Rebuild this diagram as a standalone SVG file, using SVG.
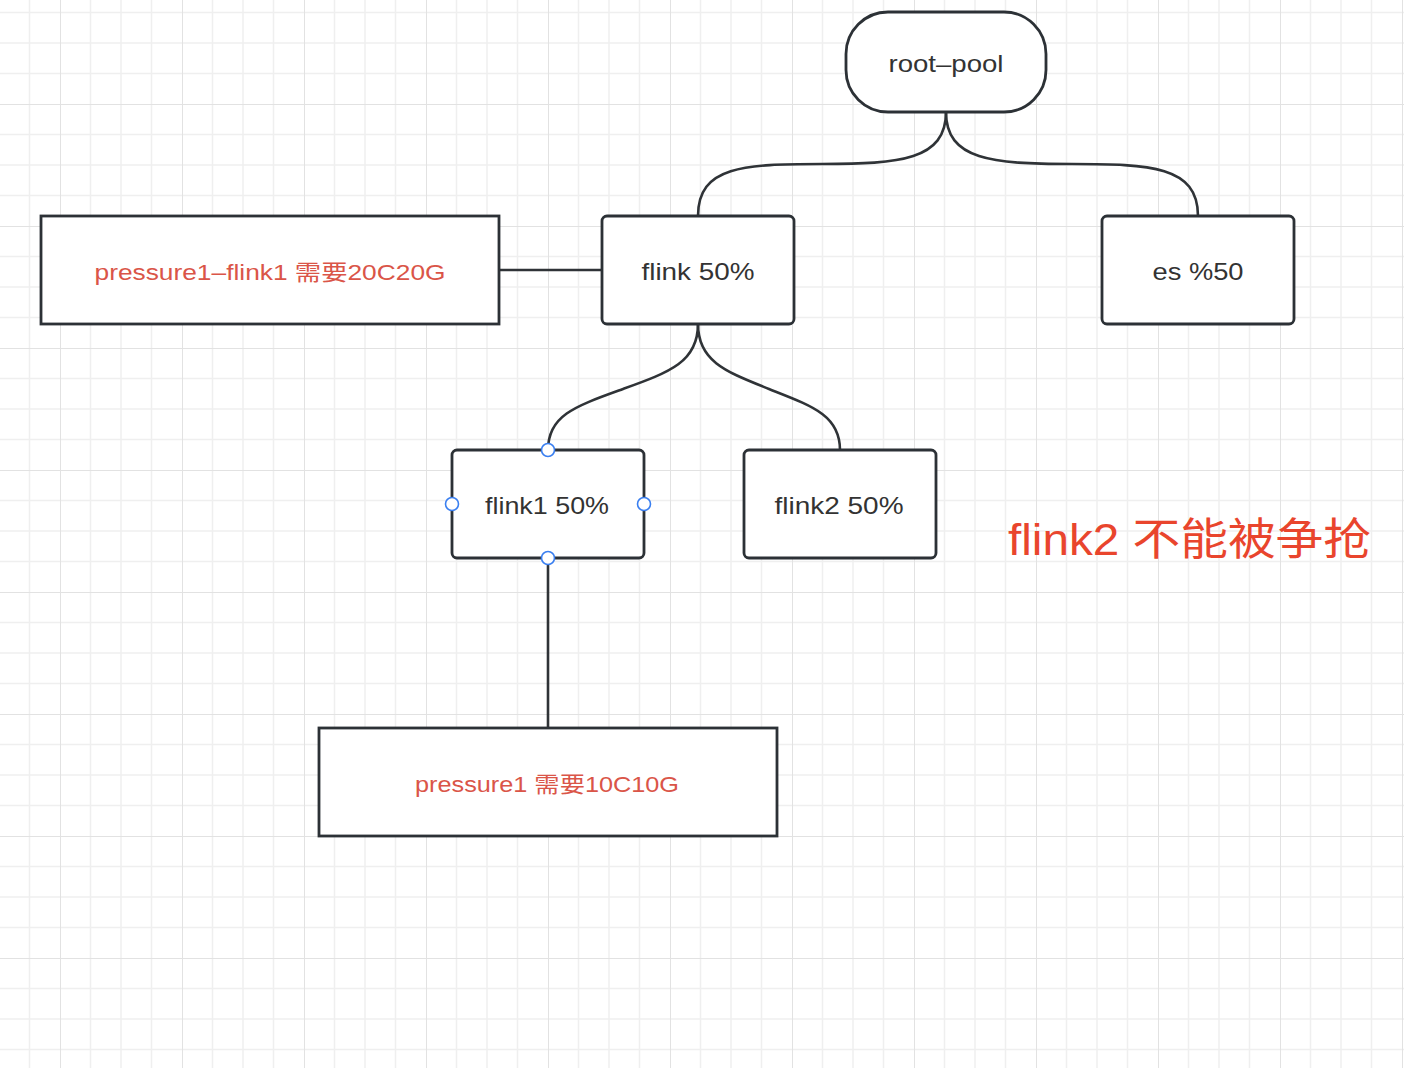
<svg xmlns="http://www.w3.org/2000/svg" width="1404" height="1068" viewBox="0 0 1404 1068">
  <defs>
    <pattern id="grid" x="60" y="104" width="122" height="122" patternUnits="userSpaceOnUse">
      <path d="M30.5 0V122M61 0V122M91.5 0V122M0 30.5H122M0 61H122M0 91.5H122" fill="none" stroke="#efefef" stroke-width="1.5"/>
      <path d="M0 0V122M0 0H122" fill="none" stroke="#e2e2e2" stroke-width="2"/>
    </pattern>
    <style>
      .box { fill: #ffffff; stroke: #2c3136; stroke-width: 2.8; }
      .conn { fill: none; stroke: #2f3337; stroke-width: 2.6; }
      .lbl { font-family: "Liberation Sans", "Noto Sans CJK SC", sans-serif; font-size: 24px; fill: #333333; text-anchor: middle; }
      .red { font-family: "Liberation Sans", "Noto Sans CJK SC", sans-serif; font-size: 22px; fill: #da5548; text-anchor: middle; }
      .title { font-family: "Liberation Sans", "Noto Sans CJK SC", sans-serif; font-size: 44px; fill: #e9452d; }
      .handle { fill: #ffffff; stroke: #3a7ff0; stroke-width: 1.6; }
    </style>
  </defs>
  <rect x="0" y="0" width="1404" height="1068" fill="#ffffff"/>
  <rect x="0" y="0" width="1404" height="1068" fill="url(#grid)"/>

  <g id="connectors">
    <path class="conn" d="M946 112 C946 160 900 164 822 164 C744 164 698 166 698 216"/>
    <path class="conn" d="M946 112 C946 160 992 164 1072 164 C1150 164 1198 166 1198 216"/>
    <path class="conn" d="M500 270 H602"/>
    <path class="conn" d="M698 324 C698 362 670 372 623 389 C576 406 548 415 548 450"/>
    <path class="conn" d="M698 324 C698 362 727 372 769 389 C812 406 840 415 840 450"/>
    <path class="conn" d="M548 558 V728"/>
  </g>

  <g id="node-root-pool">
    <rect class="box" x="846" y="12" width="200" height="100" rx="42" ry="42"/>
    <text class="lbl" x="946" y="72" textLength="115" lengthAdjust="spacingAndGlyphs">root–pool</text>
  </g>

  <g id="node-flink">
    <rect class="box" x="602" y="216" width="192" height="108" rx="5" ry="5"/>
    <text class="lbl" x="698" y="280" textLength="113" lengthAdjust="spacingAndGlyphs">flink 50%</text>
  </g>

  <g id="node-es">
    <rect class="box" x="1102" y="216" width="192" height="108" rx="5" ry="5"/>
    <text class="lbl" x="1198" y="280" textLength="91" lengthAdjust="spacingAndGlyphs">es %50</text>
  </g>

  <g id="node-pressure1-flink1">
    <rect class="box" x="41" y="216" width="458" height="108"/>
    <text class="red" x="270" y="280" textLength="351" lengthAdjust="spacingAndGlyphs">pressure1–flink1 需要20C20G</text>
  </g>

  <g id="node-flink1">
    <rect class="box" x="452" y="450" width="192" height="108" rx="5" ry="5"/>
    <text class="lbl" x="547" y="514" textLength="124" lengthAdjust="spacingAndGlyphs">flink1 50%</text>
    <circle class="handle" cx="548" cy="450" r="6.5"/>
    <circle class="handle" cx="452" cy="504" r="6.5"/>
    <circle class="handle" cx="644" cy="504" r="6.5"/>
    <circle class="handle" cx="548" cy="558" r="6.5"/>
  </g>

  <g id="node-flink2">
    <rect class="box" x="744" y="450" width="192" height="108" rx="5" ry="5"/>
    <text class="lbl" x="839" y="514" textLength="129" lengthAdjust="spacingAndGlyphs">flink2 50%</text>
  </g>

  <g id="node-pressure1">
    <rect class="box" x="319" y="728" width="458" height="108"/>
    <text class="red" x="547" y="792" textLength="264" lengthAdjust="spacingAndGlyphs">pressure1 需要10C10G</text>
  </g>

  <g id="note">
    <text class="title" x="1008" y="555" textLength="363" lengthAdjust="spacingAndGlyphs">flink2 不能被争抢</text>
  </g>
</svg>
